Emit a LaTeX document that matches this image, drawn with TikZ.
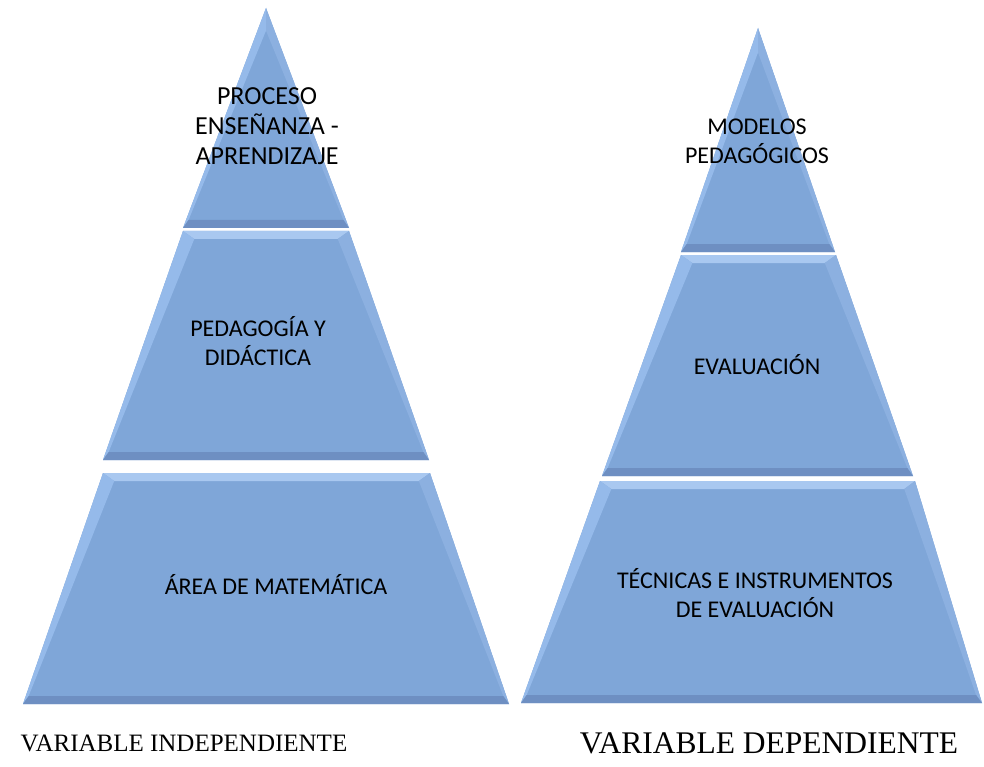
\documentclass[tikz,border=0pt]{standalone}
\usepackage{fontspec}
\setmainfont{Liberation Serif}
\newfontfamily\calfont{Carlito}
\definecolor{face}{HTML}{7FA6D8}
\definecolor{ftop}{HTML}{A9C8F0}
\definecolor{fleft}{HTML}{95BAEA}
\definecolor{fright}{HTML}{8CB0E0}
\definecolor{fbot}{HTML}{6E8FC2}
\tikzset{
  lbl/.style={font=\calfont\fontsize{24}{29}\selectfont, align=center, text=black, inner sep=0pt},
  varlbl/.style={font=\fontsize{25}{30}\selectfont, text=black, inner sep=0pt}
}
\def\bvd{8}
\newcommand\bevtrap[6]{%
\pgfmathsetmacro\bvL{(#1-#4)/(#6-#3)}%
\pgfmathsetmacro\bvR{(#5-#2)/(#6-#3)}%
\pgfmathsetmacro\bvA{#1+\bvd*sqrt(1+\bvL*\bvL)+\bvd*\bvL}%
\pgfmathsetmacro\bvB{#2-\bvd*sqrt(1+\bvR*\bvR)-\bvd*\bvR}%
\pgfmathsetmacro\bvC{#4+\bvd*sqrt(1+\bvL*\bvL)-\bvd*\bvL}%
\pgfmathsetmacro\bvD{#5-\bvd*sqrt(1+\bvR*\bvR)+\bvd*\bvR}%
\pgfmathsetmacro\bvT{#3+\bvd}%
\pgfmathsetmacro\bvU{#6-\bvd}%
\fill[face] (#1,#3)--(#2,#3)--(#5,#6)--(#4,#6)--cycle;
\fill[ftop] (#1,#3)--(#2,#3)--(\bvB,\bvT)--(\bvA,\bvT)--cycle;
\fill[fleft] (#1,#3)--(\bvA,\bvT)--(\bvC,\bvU)--(#4,#6)--cycle;
\fill[fright] (#2,#3)--(#5,#6)--(\bvD,\bvU)--(\bvB,\bvT)--cycle;
\fill[fbot] (#4,#6)--(\bvC,\bvU)--(\bvD,\bvU)--(#5,#6)--cycle;
}
\newcommand\bevtri[5]{%
\pgfmathsetmacro\bvL{(#1-#3)/(#5-#2)}%
\pgfmathsetmacro\bvR{(#4-#1)/(#5-#2)}%
\pgfmathsetmacro\bvY{#2+\bvd*sqrt(1+\bvL*\bvL)/\bvL}%
\pgfmathsetmacro\bvC{#3+\bvd*sqrt(1+\bvL*\bvL)-\bvd*\bvL}%
\pgfmathsetmacro\bvD{#4-\bvd*sqrt(1+\bvR*\bvR)+\bvd*\bvR}%
\pgfmathsetmacro\bvU{#5-\bvd}%
\fill[face] (#1,#2)--(#4,#5)--(#3,#5)--cycle;
\fill[fleft] (#1,#2)--(#1,\bvY)--(\bvC,\bvU)--(#3,#5)--cycle;
\fill[fright] (#1,#2)--(#4,#5)--(\bvD,\bvU)--(#1,\bvY)--cycle;
\fill[fbot] (#3,#5)--(\bvC,\bvU)--(\bvD,\bvU)--(#4,#5)--cycle;
}
\begin{document}
\begin{tikzpicture}[x=1pt,y=-1pt]
\useasboundingbox (0,0) rectangle (984,767);
% left pyramid
\bevtri{266}{8}{183}{349}{228}
\bevtrap{183}{349}{231}{103}{429}{460}
\bevtrap{103}{430}{473}{23}{509}{704}
% right pyramid
\bevtri{758}{28}{681}{835}{252}
\bevtrap{681}{836}{255}{602}{913}{476}
\bevtrap{600}{915}{481}{521}{982}{703}
% labels
\node[lbl, font=\calfont\fontsize{26}{30}\selectfont] (l1) at (267,126) {PROCESO\\ENSEÑANZA -\\APRENDIZAJE};
\node[lbl] (l2) at (258,341) {PEDAGOGÍA Y\\DIDÁCTICA};
\node[lbl] (l3) at (276,585) {ÁREA DE MATEMÁTICA};
\node[lbl] (r1) at (757,141) {MODELOS\\PEDAGÓGICOS};
\node[lbl] (r2) at (757,365) {EVALUACIÓN};
\node[lbl] (r3) at (755,593) {TÉCNICAS E INSTRUMENTOS\\DE EVALUACIÓN};
\node[varlbl] (vi) at (184,743) {VARIABLE INDEPENDIENTE};
\node[varlbl, font=\fontsize{31.5}{36}\selectfont] (vd) at (769,743) {VARIABLE DEPENDIENTE};
\end{tikzpicture}
\end{document}
